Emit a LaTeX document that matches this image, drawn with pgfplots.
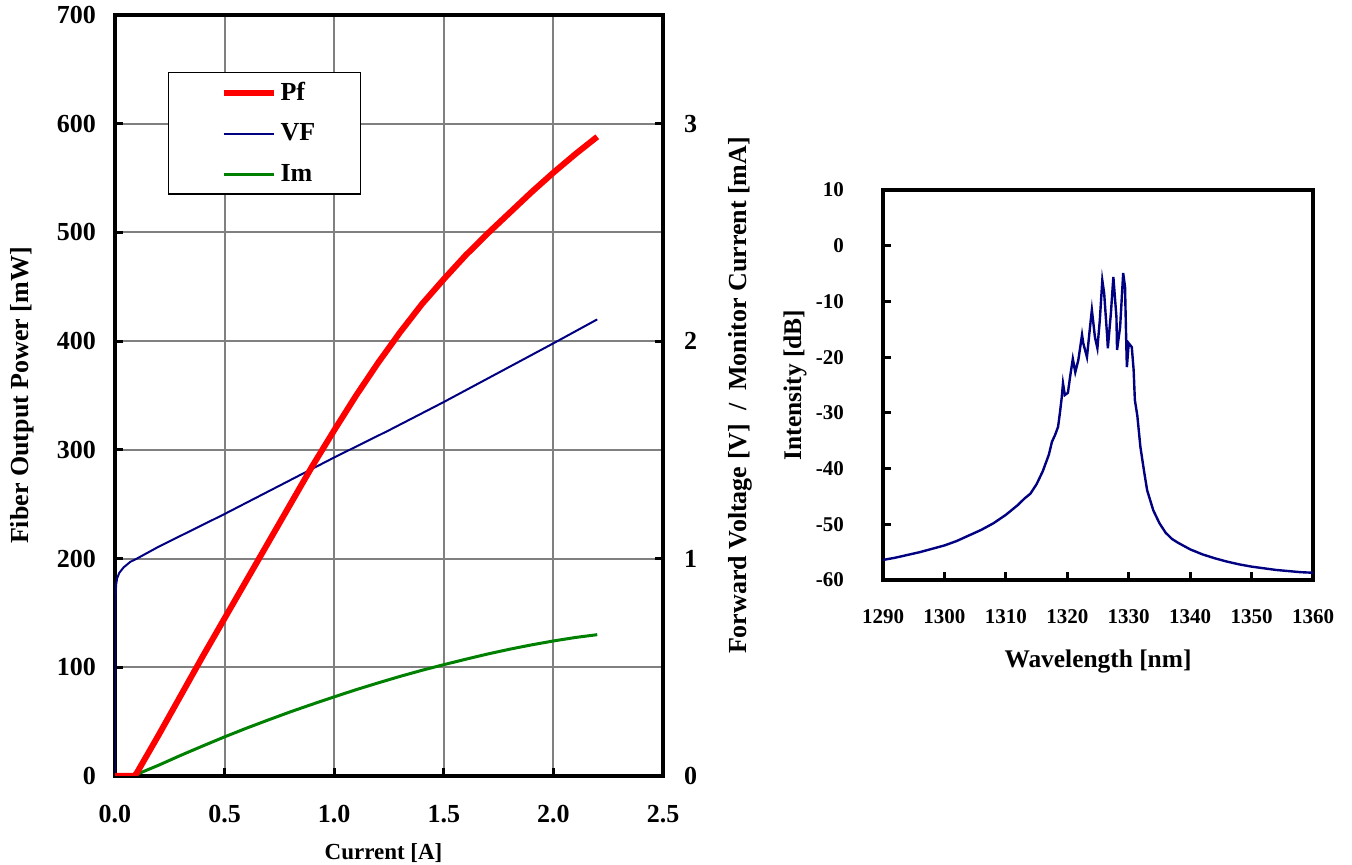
\documentclass[border=0pt]{standalone}
\usepackage{fontspec}
\setmainfont{Liberation Serif}
\usepackage{pgfplots}
\pgfplotsset{compat=1.18}
\definecolor{vfblue}{RGB}{0,0,128}
\definecolor{imgreen}{RGB}{0,128,0}
\definecolor{gridgray}{RGB}{128,128,128}

\newcommand\lfont{\bfseries\fontsize{13}{15}\selectfont}
\newcommand\xlfont{\bfseries\fontsize{11.5}{13}\selectfont}
\newcommand\rfont{\bfseries\fontsize{10.5}{12}\selectfont}
\newcommand\rlfont{\bfseries\fontsize{12.7}{14}\selectfont}

\pgfplotsset{
  base/.style={
    scale only axis,
    axis line style={line width=2pt},
    tick style={black, line width=1.6pt},
    major tick length=4pt,
    tick align=inside,
    /pgf/number format/assume math mode=true,
  },
  leftbox/.style={
    base,
    at={(57.5pt,44.5pt)}, anchor=south west,
    width=274pt, height=380.5pt,
    xmin=0, xmax=2.5, ymin=0, ymax=700,
    clip=false,
  },
}

\begin{document}
\begin{tikzpicture}
\path[use as bounding box] (0,0) rectangle (676pt,432.5pt);

% left-scale frame with grid
\begin{axis}[
  leftbox,
  tick pos=left,
  xtick={0,0.5,...,2.5},
  ytick={0,100,...,700},
  grid=major,
  grid style={gridgray, line width=1pt},
  xticklabel style={font=\lfont, yshift=-11pt, /pgf/number format/.cd, fixed, fixed zerofill, precision=1},
  yticklabel style={font=\lfont, xshift=-6pt},
  xlabel={Current [A]},
  ylabel={Fiber Output Power [mW]},
  xlabel style={font=\xlfont, at={(axis description cs:0.49,-0.101)}, anchor=center},
  ylabel style={font=\lfont, at={(axis description cs:-0.17,0.5)}, anchor=center},
]
\end{axis}

% right scale: forward voltage and monitor current
\begin{axis}[
  leftbox,
  ymin=0, ymax=3.5,
  clip=true,
  axis y line*=right,
  hide x axis,
  ytick={0,1,2,3},
  yticklabel style={font=\lfont, xshift=7pt},
  ylabel={Forward Voltage [V] \ / \ Monitor Current [mA]},
  ylabel style={font=\lfont, at={(axis description cs:1.1405,0.5)}, anchor=center},
]
\addplot[vfblue, line width=1pt] coordinates {
(0,0) (0.002,0.8) (0.005,0.88) (0.01,0.91) (0.02,0.935) (0.04,0.96)
(0.07,0.985) (0.1,1.0) (0.2,1.055) (0.3,1.105) (0.5,1.205) (0.75,1.335)
(1.0,1.465) (1.25,1.59) (1.5,1.72) (1.75,1.855) (2.0,1.99) (2.2,2.1)
};
\addplot[imgreen, line width=1.5pt] coordinates {
(0,0) (0.08,0) (0.1,0.008) (0.2,0.05) (0.3,0.095) (0.4,0.138) (0.5,0.18)
(0.6,0.22) (0.7,0.258) (0.8,0.295) (0.9,0.33) (1.0,0.364) (1.1,0.397)
(1.2,0.428) (1.3,0.458) (1.4,0.486) (1.5,0.512) (1.6,0.537) (1.7,0.561)
(1.8,0.583) (1.9,0.603) (2.0,0.621) (2.1,0.637) (2.2,0.65)
};
\end{axis}

% fiber output power and legend
\begin{axis}[
  leftbox,
  clip=true,
  hide axis,
  legend style={
    at={(0.0967,0.925)}, anchor=north west,
    draw=black, line width=0.6pt, fill=white,
    font=\lfont, inner xsep=4pt, inner ysep=3pt,
    row sep=6pt,
    cells={anchor=west},
    /tikz/every even column/.append style={text width=34pt},
  },
  legend image code/.code={
    \path (-22pt,0pt);
    \draw[#1] (0pt,0pt) -- (25pt,0pt);
  },
]
\addplot[red, line width=3pt] coordinates {
(0,0) (0.08,0) (0.09,0.5) (0.1,3) (0.2,38) (0.3,74) (0.4,110) (0.5,145)
(0.6,180) (0.7,215) (0.8,250) (0.9,285) (1.0,318) (1.1,350) (1.2,380)
(1.3,408) (1.4,434) (1.5,457) (1.6,479) (1.7,499) (1.8,518) (1.9,537)
(2.0,555) (2.1,572) (2.2,588)
};
\addlegendentry{Pf}
\addlegendimage{vfblue, line width=1pt}
\addlegendentry{VF}
\addlegendimage{imgreen, line width=1.5pt}
\addlegendentry{Im}
\end{axis}

% spectrum
\begin{axis}[
  base,
  at={(441.5pt,142.5pt)}, anchor=south west,
  width=215pt, height=195pt,
  xmin=1290, xmax=1360, ymin=-60, ymax=10,
  tick pos=left,
  xtick={1290,1300,...,1360},
  ytick={-60,-50,...,10},
  yticklabels={-60,-50,-40,-30,-20,-10,0,10},
  xticklabel style={font=\rfont, yshift=-11pt, /pgf/number format/.cd, set thousands separator={}},
  yticklabel style={font=\rfont, xshift=-16pt},
  xlabel={Wavelength [nm]},
  ylabel={Intensity [dB]},
  xlabel style={font=\rlfont, at={(axis description cs:0.5,-0.21)}, anchor=center},
  ylabel style={font=\rlfont, at={(axis description cs:-0.2047,0.5)}, anchor=center},
]
\addplot[vfblue, line width=1.2pt] coordinates {
(1290,-56.4) (1292,-56.0) (1294,-55.5) (1296,-55.0) (1298,-54.4) (1300,-53.8)
(1302,-53.0) (1304,-52.0) (1306,-51.0) (1308,-49.8) (1310,-48.3) (1312,-46.5)
(1313,-45.4) (1314,-44.5) (1315,-42.8) (1316,-40.5) (1317,-37.5) (1317.5,-35.2)
(1318,-34.0) (1318.5,-32.5) (1318.8,-30.0) (1319.1,-27.2) (1319.3,-24.7)
(1319.6,-26.8) (1320.1,-26.4) (1320.5,-23.2) (1320.9,-20.3) (1321.3,-22.7)
(1321.8,-20.5) (1322.4,-16.0) (1322.6,-17.5) (1323.2,-20.0) (1323.7,-14.6)
(1324.0,-11.5) (1324.5,-16.4) (1324.9,-18.4) (1325.3,-13.3) (1325.7,-6.2)
(1326.0,-8.5) (1326.5,-16.4) (1326.6,-18.4) (1327.1,-12.1) (1327.5,-5.6)
(1328.0,-12.8) (1328.1,-18.7) (1328.6,-14.6) (1329.1,-4.9) (1329.4,-7.4)
(1329.6,-17.5) (1329.7,-21.8) (1330.0,-17.5) (1330.5,-18.2) (1330.8,-22.3)
(1331.0,-27.7) (1331.4,-30.5) (1331.9,-36.1) (1332.5,-40.5) (1333.0,-43.9)
(1334,-47.5) (1335,-49.8) (1336,-51.5) (1337,-52.6) (1338,-53.3) (1340,-54.5)
(1342,-55.4) (1344,-56.1) (1346,-56.7) (1348,-57.2) (1350,-57.6) (1352,-57.9)
(1354,-58.2) (1356,-58.4) (1358,-58.6) (1360,-58.7)
};
\end{axis}
\end{tikzpicture}
\end{document}
